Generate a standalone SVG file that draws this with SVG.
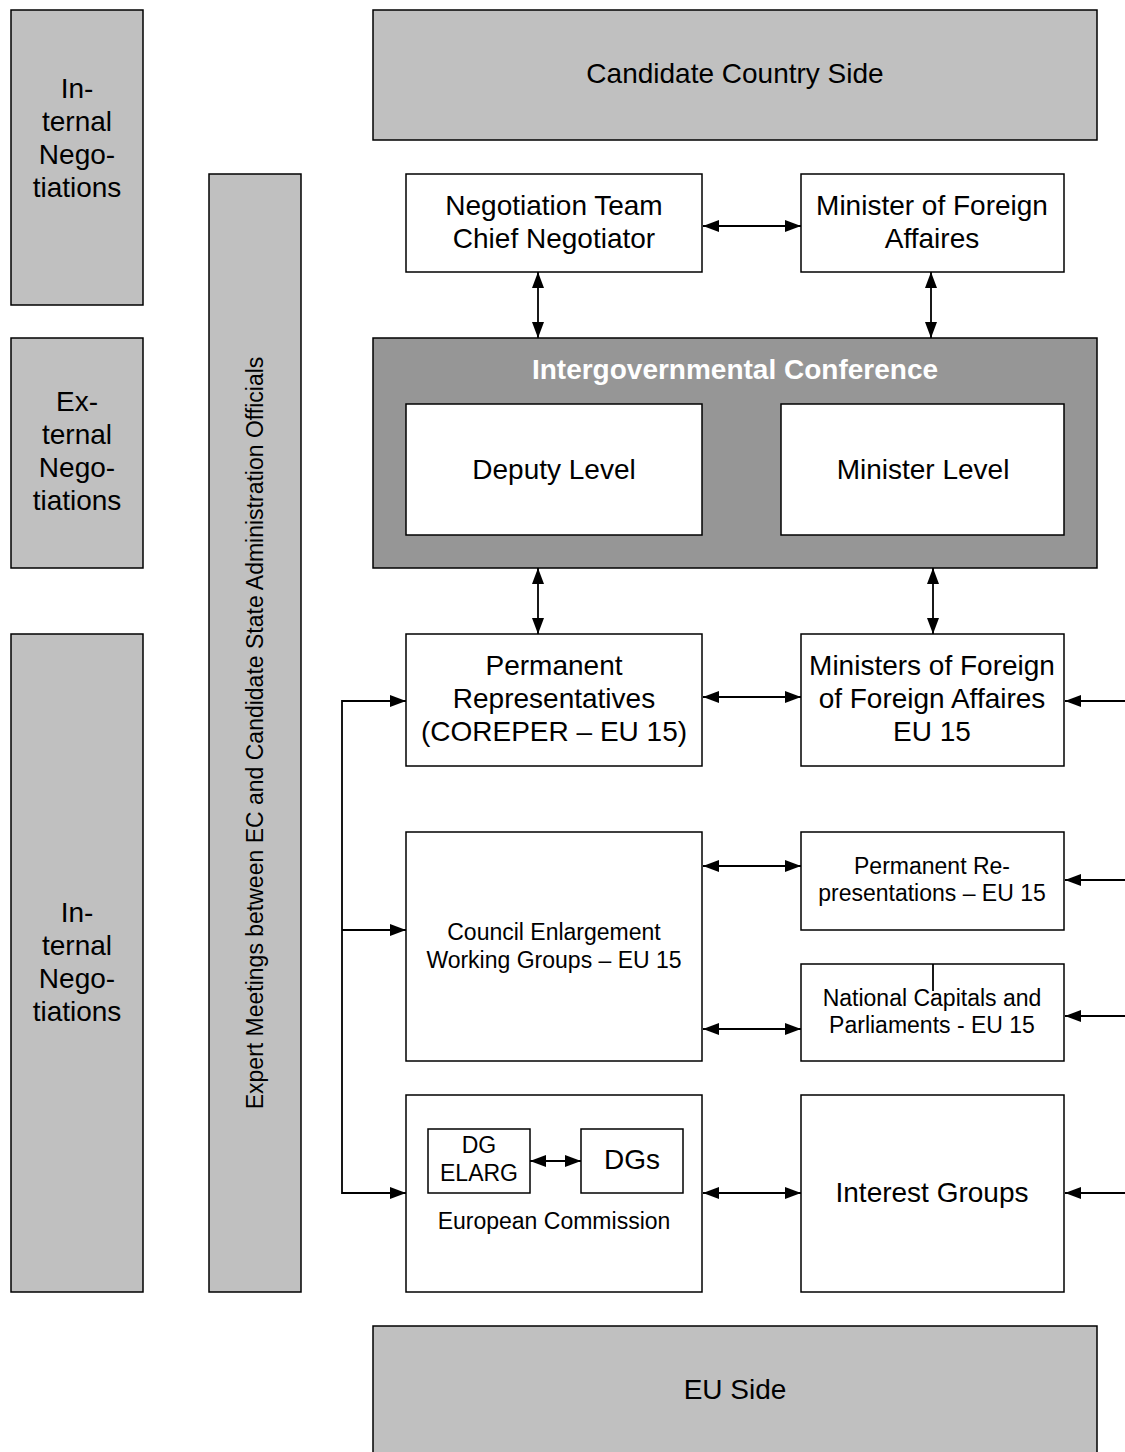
<svg xmlns="http://www.w3.org/2000/svg" width="1125" height="1452" viewBox="0 0 1125 1452">
<style>
.g{fill:#c0c0c0;stroke:#000;stroke-width:1.5}
.w{fill:#fff;stroke:#000;stroke-width:1.5}
.d{fill:#969696;stroke:#000;stroke-width:1.5}
text{font-family:"Liberation Sans",Arial,sans-serif;fill:#000;text-anchor:middle}
.t26{font-size:28px}
.t24{font-size:28px}
.t21{font-size:23px}
.c{stroke:#000;stroke-width:1.8;fill:none}
</style>
<defs>
<marker id="a" viewBox="0 0 16 12" refX="16" refY="6" markerWidth="16" markerHeight="12" markerUnits="userSpaceOnUse" orient="auto-start-reverse"><path d="M0,0 L16,6 L0,12 Z" fill="#000"/></marker>
</defs>
<rect width="1125" height="1452" fill="#fff"/>
<g id="left-internal-top"><rect class="g" x="11" y="10" width="132" height="295"/><text class="t26" x="77" y="98">In-</text><text class="t26" x="77" y="131">ternal</text><text class="t26" x="77" y="164">Nego-</text><text class="t26" x="77" y="197">tiations</text></g>
<g id="left-external"><rect class="g" x="11" y="338" width="132" height="230"/><text class="t26" x="77" y="411">Ex-</text><text class="t26" x="77" y="444">ternal</text><text class="t26" x="77" y="477">Nego-</text><text class="t26" x="77" y="510">tiations</text></g>
<g id="left-internal-bottom"><rect class="g" x="11" y="634" width="132" height="658"/><text class="t26" x="77" y="922">In-</text><text class="t26" x="77" y="955">ternal</text><text class="t26" x="77" y="988">Nego-</text><text class="t26" x="77" y="1021">tiations</text></g>
<g id="expert"><rect class="g" x="209" y="174" width="92" height="1118"/><text font-size="23" transform="translate(263,733) rotate(-90)">Expert Meetings between EC and Candidate State Administration Officials</text></g>
<g id="candidate"><rect class="g" x="373" y="10" width="724" height="130"/><text class="t24" x="735" y="83">Candidate Country Side</text></g>
<g id="negteam"><rect class="w" x="406" y="174" width="296" height="98"/><text class="t26" x="554" y="215">Negotiation Team</text><text class="t26" x="554" y="248">Chief Negotiator</text></g>
<g id="mfa"><rect class="w" x="801" y="174" width="263" height="98"/><text class="t26" x="932" y="215">Minister of Foreign</text><text class="t26" x="932" y="248">Affaires</text></g>
<g id="igc"><rect class="d" x="373" y="338" width="724" height="230"/><text font-size="28" font-weight="bold" style="fill:#fff" x="735" y="379">Intergovernmental Conference</text></g>
<g id="deputy"><rect class="w" x="406" y="404" width="296" height="131"/><text class="t26" x="554" y="479">Deputy Level</text></g>
<g id="minister"><rect class="w" x="781" y="404" width="283" height="131"/><text class="t26" x="923" y="479">Minister Level</text></g>
<g id="coreper"><rect class="w" x="406" y="634" width="296" height="132"/><text class="t26" x="554" y="675">Permanent</text><text class="t26" x="554" y="708">Representatives</text><text class="t26" x="554" y="741">(COREPER – EU 15)</text></g>
<g id="mfa15"><rect class="w" x="801" y="634" width="263" height="132"/><text class="t26" x="932" y="675">Ministers of Foreign</text><text class="t26" x="932" y="708">of Foreign Affaires</text><text class="t26" x="932" y="741">EU 15</text></g>
<g id="council"><rect class="w" x="406" y="832" width="296" height="229"/><text class="t21" x="554" y="940">Council Enlargement</text><text class="t21" x="554" y="968">Working Groups – EU 15</text></g>
<g id="permrep"><rect class="w" x="801" y="832" width="263" height="98"/><text class="t21" x="932" y="874">Permanent Re-</text><text class="t21" x="932" y="901">presentations – EU 15</text></g>
<g id="national"><rect class="w" x="801" y="964" width="263" height="97"/><text class="t21" x="932" y="1006">National Capitals and</text><text class="t21" x="932" y="1033">Parliaments - EU 15</text></g>
<g id="ec"><rect class="w" x="406" y="1095" width="296" height="197"/><text class="t21" x="554" y="1229">European Commission</text></g>
<g id="dgelarg"><rect class="w" x="428" y="1129" width="102" height="64"/><text class="t21" x="479" y="1153">DG</text><text class="t21" x="479" y="1181">ELARG</text></g>
<g id="dgs"><rect class="w" x="581" y="1129" width="102" height="64"/><text class="t26" x="632" y="1169">DGs</text></g>
<g id="interest"><rect class="w" x="801" y="1095" width="263" height="197"/><text class="t26" x="932" y="1202">Interest Groups</text></g>
<g id="eu"><rect class="g" x="373" y="1326" width="724" height="140"/><text class="t24" x="735" y="1399">EU Side</text></g>
<g id="connectors">
<line class="c" x1="703" y1="226" x2="801" y2="226" marker-start="url(#a)" marker-end="url(#a)"/>
<line class="c" x1="538" y1="272" x2="538" y2="338" marker-start="url(#a)" marker-end="url(#a)"/>
<line class="c" x1="931" y1="272" x2="931" y2="338" marker-start="url(#a)" marker-end="url(#a)"/>
<line class="c" x1="538" y1="568" x2="538" y2="634" marker-start="url(#a)" marker-end="url(#a)"/>
<line class="c" x1="933" y1="568" x2="933" y2="634" marker-start="url(#a)" marker-end="url(#a)"/>
<line class="c" x1="703" y1="697" x2="801" y2="697" marker-start="url(#a)" marker-end="url(#a)"/>
<line class="c" x1="703" y1="866" x2="801" y2="866" marker-start="url(#a)" marker-end="url(#a)"/>
<line class="c" x1="703" y1="1029" x2="801" y2="1029" marker-start="url(#a)" marker-end="url(#a)"/>
<line class="c" x1="703" y1="1193" x2="801" y2="1193" marker-start="url(#a)" marker-end="url(#a)"/>
<line class="c" x1="530" y1="1161" x2="581" y2="1161" marker-start="url(#a)" marker-end="url(#a)"/>
<line class="c" x1="1125" y1="701" x2="1065" y2="701" marker-end="url(#a)"/>
<line class="c" x1="1125" y1="880" x2="1065" y2="880" marker-end="url(#a)"/>
<line class="c" x1="1125" y1="1016" x2="1065" y2="1016" marker-end="url(#a)"/>
<line class="c" x1="1125" y1="1193" x2="1065" y2="1193" marker-end="url(#a)"/>
<polyline class="c" points="406,701 342,701 342,1193 406,1193" marker-start="url(#a)" marker-end="url(#a)"/>
<line class="c" x1="342" y1="930" x2="406" y2="930" marker-end="url(#a)"/>
<line class="c" x1="933" y1="964" x2="933" y2="991"/>
</g>
</svg>
